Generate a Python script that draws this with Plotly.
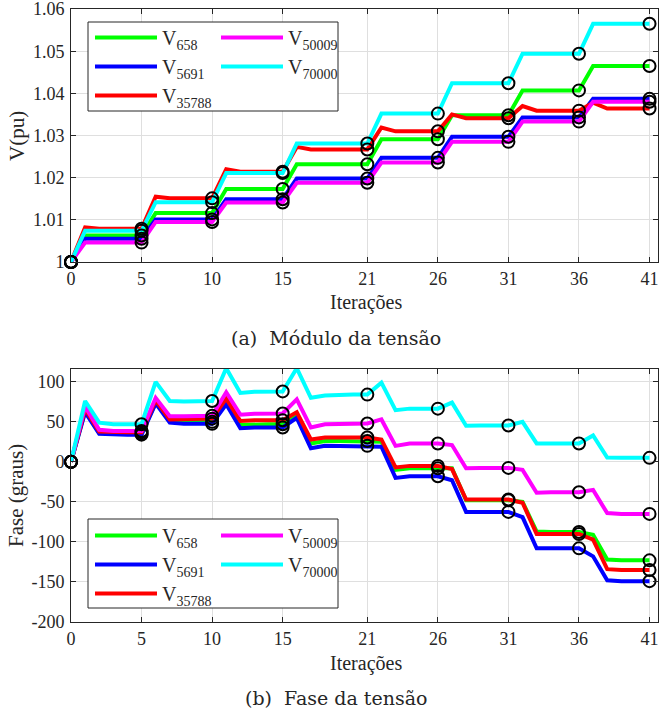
import plotly.graph_objects as go

iters = list(range(42))
mark_iters = [0, 5, 10, 15, 21, 26, 31, 36, 41]

# ---- Module (pu) ----
v658 = [1.0] + [1.0063]*5 + [1.0116]*5 + [1.0173]*5 + [1.0232]*6 + [1.0291]*5 + [1.0348]*5 + [1.0407]*5 + [1.0465]*5
v5691 = [1.0] + [1.0055]*5 + [1.0101]*5 + [1.0149]*5 + [1.0198]*6 + [1.0247]*5 + [1.0297]*5 + [1.0343]*5 + [1.0387]*5
v35788 = ([1.0] + [1.0082] + [1.0079]*4 + [1.0155] + [1.0151]*4 + [1.0220] + [1.0214]*4
          + [1.0273] + [1.0267]*5 + [1.0319] + [1.0310]*4 + [1.0350] + [1.0341]*4
          + [1.0370] + [1.0359]*4 + [1.0378] + [1.0364]*4)
v50009 = [1.0] + [1.0046]*5 + [1.0095]*5 + [1.0141]*5 + [1.0188]*6 + [1.0236]*5 + [1.0285]*5 + [1.0333]*5 + [1.0380]*5
v70000 = [1.0] + [1.0074]*5 + [1.0142]*5 + [1.0211]*5 + [1.0281]*6 + [1.0352]*5 + [1.0424]*5 + [1.0494]*5 + [1.0565]*5

# ---- Phase (degrees) ----
f658 = [0, 64, 36, 35, 35, 35, 74, 51, 50, 50, 50, 75, 46, 47, 47, 47, 58, 23, 26, 26, 26, 26,
        25, -10, -8, -8, -8, -8, -48, -48, -48, -48, -50, -87, -87.5, -87.5, -87.5, -91, -122, -123, -123, -123]
f5691 = [0, 62, 35, 34, 34, 34, 73, 49, 47.5, 47.5, 47.5, 72, 42, 43, 43, 43, 55, 17, 20, 20, 20, 20,
         19, -20, -18, -18, -18, -23, -62.5, -62.5, -62.5, -62.5, -69, -108, -108, -108, -108, -118, -148, -149, -149, -149]
f35788 = [0, 66, 38, 37, 37, 37, 77, 53, 53, 53, 54, 79, 51, 52, 52, 52, 62, 28, 30.5, 30.5, 30.5, 30.5,
          28, -7, -5, -5, -5, -9, -47, -47, -47, -47, -51, -90, -90, -90, -90, -97, -134, -135, -135, -135]
f50009 = [0, 69, 40, 38.5, 38.5, 38.5, 80, 57, 57, 57, 57.5, 87, 59, 60, 60, 60.5, 78, 43, 47, 47, 47.5, 48,
          53, 20, 23, 23, 23, 21, -8, -7.5, -7.5, -7.5, -10, -38.5, -38, -38, -38, -35, -64, -65, -65, -65]
f70000 = [0, 76, 49, 47, 47, 47, 100, 76, 75.5, 75.5, 76, 117, 86, 87.5, 88, 88, 117, 80, 83, 84, 84, 84,
          99, 64.5, 66.5, 66.5, 66.5, 74, 45, 45.5, 45.5, 45.5, 50, 23, 23, 23, 23, 33, 5.5, 5, 5, 5]

names = ["V<sub>658</sub>", "V<sub>5691</sub>", "V<sub>35788</sub>", "V<sub>50009</sub>", "V<sub>70000</sub>"]
colors = ["#00ff00", "#0000ff", "#ff0000", "#ff00ff", "#00ffff"]
mod_series = [v658, v5691, v35788, v50009, v70000]
fase_series = [f658, f5691, f35788, f50009, f70000]

x_ticks = [0, 5, 10, 15, 21, 26, 31, 36, 41]
y1_ticks = [1.0, 1.01, 1.02, 1.03, 1.04, 1.05, 1.06]
y1_text = ["1", "1.01", "1.02", "1.03", "1.04", "1.05", "1.06"]
y2_ticks = [-200, -150, -100, -50, 0, 50, 100]
y2_text = ["-200", "-150", "-100", "-50", "0", "50", "100"]

SERIF = "Liberation Serif, Times New Roman, Times, serif"
CAPFONT = "DejaVu Serif, serif"
W, H = 660, 711
ML, MR, MT, MB = 71, 2, 9, 89
PW, PH = W - ML - MR, H - MT - MB

def px(xp):
    return (xp - ML) / PW

def py(yp):
    return (H - MB - yp) / PH

fig = go.Figure()

legend_cols_top = ["legend", "legend", "legend", "legend3", "legend3"]
legend_cols_bot = ["legend2", "legend2", "legend2", "legend4", "legend4"]

for i in range(5):
    fig.add_trace(go.Scatter(x=iters, y=mod_series[i], mode="lines", name=names[i],
                             line=dict(color=colors[i], width=4), xaxis="x", yaxis="y",
                             legend=legend_cols_top[i], showlegend=True))
for i in range(5):
    fig.add_trace(go.Scatter(x=iters, y=fase_series[i], mode="lines", name=names[i],
                             line=dict(color=colors[i], width=4), xaxis="x2", yaxis="y2",
                             legend=legend_cols_bot[i], showlegend=True))
for i in range(5):
    s = mod_series[i]
    fig.add_trace(go.Scatter(x=mark_iters, y=[s[k] for k in mark_iters], mode="markers",
                             marker=dict(symbol="circle-open", size=12, color="black", line=dict(width=2)),
                             xaxis="x", yaxis="y", showlegend=False, cliponaxis=False))
for i in range(5):
    s = fase_series[i]
    fig.add_trace(go.Scatter(x=mark_iters, y=[s[k] for k in mark_iters], mode="markers",
                             marker=dict(symbol="circle-open", size=12, color="black", line=dict(width=2)),
                             xaxis="x2", yaxis="y2", showlegend=False, cliponaxis=False))

axis_common = dict(showline=True, linecolor="#262626", linewidth=1, mirror="ticks",
                   ticks="inside", ticklen=5, tickcolor="#262626", showgrid=True,
                   gridcolor="#dfdfdf", gridwidth=1, zeroline=False, automargin=False,
                   ticklabeloverflow="allow",
                   tickfont=dict(family=SERIF, size=18, color="#262626"))

top_dom = [py(262), 1.0]
bot_dom = [0.0, py(369)]

fig.update_layout(
    template="none",
    width=W, height=H,
    margin=dict(l=ML, r=MR, t=MT, b=MB, autoexpand=False),
    paper_bgcolor="white", plot_bgcolor="white",
    font=dict(family=SERIF, color="#262626"),
    xaxis=dict(domain=[0, 1], range=[0, 41.6], tickvals=x_ticks, anchor="y", **axis_common),
    yaxis=dict(domain=top_dom, range=[1.0, 1.06001], tickvals=y1_ticks, ticktext=y1_text, anchor="x",
               ticklabelstandoff=2, **axis_common),
    xaxis2=dict(domain=[0, 1], range=[0, 41.6], tickvals=x_ticks, anchor="y2", **axis_common),
    yaxis2=dict(domain=bot_dom, range=[-200, 116], tickvals=y2_ticks, ticktext=y2_text, anchor="x2",
                ticklabelstandoff=2, **axis_common),
)

leg_common = dict(bgcolor="rgba(0,0,0,0)", borderwidth=0, itemwidth=62, orientation="v",
                  font=dict(family=SERIF, size=20, color="#262626"), xanchor="left", yanchor="top",
                  tracegroupgap=0, itemclick=False)
fig.update_layout(
    legend=dict(x=px(90), y=py(18), **leg_common),
    legend3=dict(x=px(216), y=py(18), **leg_common),
    legend2=dict(x=px(90), y=py(516), **leg_common),
    legend4=dict(x=px(216), y=py(516), **leg_common),
)

shapes = []
for (y0, y1) in [(22, 111), (519, 608)]:
    shapes.append(dict(type="rect", xref="paper", yref="paper", x0=px(88), x1=px(338),
                       y0=py(y1), y1=py(y0), line=dict(color="#262626", width=1),
                       fillcolor="white", layer="above"))
fig.update_layout(shapes=shapes)

ann = []
ann.append(dict(text="V(pu)", x=px(17), y=py(136), textangle=-90, font=dict(family=SERIF, size=21)))
ann.append(dict(text="Fase (graus)", x=px(16), y=py(496), textangle=-90, font=dict(family=SERIF, size=21)))
ann.append(dict(text="Iterações", x=px(366), y=py(303), font=dict(family=SERIF, size=20)))
ann.append(dict(text="Iterações", x=px(366), y=py(663), font=dict(family=SERIF, size=20)))
ann.append(dict(text="(a)  Módulo da tensão", x=px(336), y=py(338), font=dict(family=CAPFONT, size=19)))
ann.append(dict(text="(b)  Fase da tensão", x=px(336), y=py(698), font=dict(family=CAPFONT, size=19)))
for a in ann:
    a.update(xref="paper", yref="paper", showarrow=False, xanchor="center", yanchor="middle")
fig.update_layout(annotations=ann)

fig.write_html("out.html", config={"displayModeBar": False},
               post_script="document.body.style.margin='0px';")
